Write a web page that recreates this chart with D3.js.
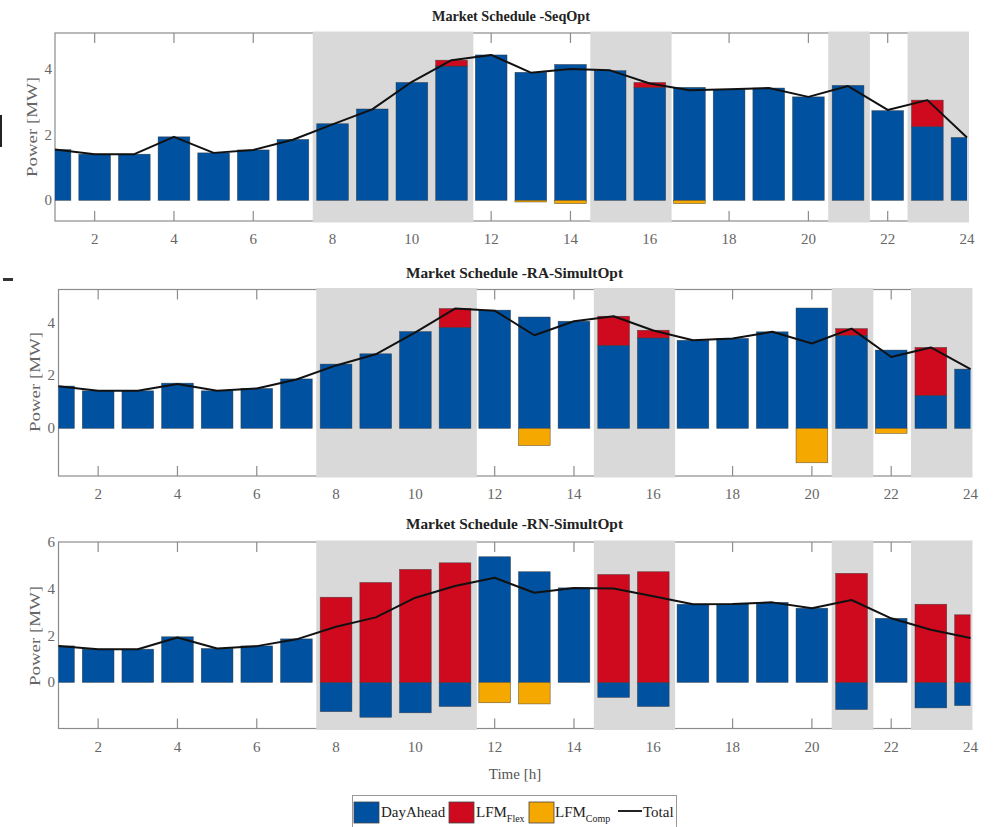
<!DOCTYPE html>
<html><head><meta charset="utf-8">
<script src="https://cdn.jsdelivr.net/npm/d3@7"></script>
<style>body{margin:0;background:#fff}</style>
</head><body>
<svg id="c" width="993" height="827" xmlns="http://www.w3.org/2000/svg"></svg>
<script>
// ---------------- DATA ----------------
const hours = [1,2,3,4,5,6,7,8,9,10,11,12,13,14,15,16,17,18,19,20,21,22,23,24];
const xTickValues = [2,4,6,8,10,12,14,16,18,20,22,24];
const shadedBands = [[7.5,11.5],[14.5,16.5],[20.5,21.5],[22.5,24]];
const seriesNames = ["DayAhead","LFM_Flex","LFM_Comp","Total"];

const seqDayAhead = [1.55,1.41,1.41,1.94,1.45,1.54,1.86,2.34,2.79,3.60,4.10,4.44,3.91,4.15,3.96,3.45,3.45,3.39,3.43,3.16,3.51,2.74,2.25,1.92];
const seqFlex     = [0,0,0,0,0,0,0,0,0,0,0.18,0,0,0,0,0.15,0,0,0,0,0,0,0.81,0];
const seqComp     = [0,0,0,0,0,0,0,0,0,0,0,0,-0.05,-0.10,0,0,-0.10,0,0,0,0,0,0,0];
const seqTotal    = [1.55,1.41,1.41,1.94,1.45,1.54,1.85,2.32,2.78,3.62,4.28,4.44,3.90,4.01,3.97,3.57,3.36,3.39,3.43,3.16,3.49,2.76,3.06,1.92];
const seqYTicks   = [0,2,4];

const raDayAhead = [1.60,1.42,1.42,1.71,1.42,1.51,1.87,2.43,2.82,3.66,3.82,4.47,4.21,4.05,3.14,3.42,3.33,3.40,3.65,4.55,3.52,2.96,1.25,2.24];
const raFlex     = [0,0,0,0,0,0,0,0,0,0,0.71,0,0,0,1.10,0.29,0,0,0,0,0.25,0,1.81,0];
const raComp     = [0,0,0,0,0,0,0,0,0,0,0,0,-0.65,0,0,0,0,0,0,-1.30,0,-0.19,0,0];
const raTotal    = [1.59,1.42,1.42,1.68,1.42,1.51,1.85,2.38,2.80,3.63,4.53,4.45,3.52,4.05,4.24,3.70,3.33,3.40,3.65,3.21,3.77,2.70,3.06,2.24];
const raYTicks   = [0,2,4];

const rnDayAhead = [1.56,1.42,1.42,1.95,1.45,1.56,1.86,-1.25,-1.49,-1.30,-1.03,5.37,4.73,4.04,-0.64,-1.03,3.34,3.35,3.42,3.17,-1.16,2.74,-1.09,-0.99];
const rnFlex     = [0,0,0,0,0,0,0,3.64,4.27,4.83,5.11,0,0,0,4.61,4.73,0,0,0,0,4.66,0,3.34,2.89];
const rnComp     = [0,0,0,0,0,0,0,0,0,0,0,-0.87,-0.92,0,0,0,0,0,0,0,0,0,0,0];
const rnTotal    = [1.56,1.42,1.42,1.92,1.45,1.55,1.84,2.38,2.78,3.62,4.12,4.47,3.83,4.03,4.01,3.68,3.34,3.35,3.42,3.17,3.52,2.74,2.25,1.90];
const rnYTicks   = [0,2,4,6];

// ---------------- LAYOUT / STYLE ----------------
const colors = {DayAhead:"#0052a0", LFM_Flex:"#cf0a1e", LFM_Comp:"#f5a800"};
const serif = "'Liberation Serif','DejaVu Serif',serif";
const panels = [
  {title:"Market Schedule -SeqOpt", da:seqDayAhead, flex:seqFlex, comp:seqComp, total:seqTotal, yTicks:seqYTicks,
   yDomain:[-0.63,5.11], x0:55, x1:967, top:33, bottom:221, titleY:20.5, titleW:158, tickY:244, yLabRight:52, ylabX:37, ylabY:127},
  {title:"Market Schedule -RA-SimultOpt", da:raDayAhead, flex:raFlex, comp:raComp, total:raTotal, yTicks:raYTicks,
   yDomain:[-1.8,5.25], x0:58.5, x1:970.5, top:289.5, bottom:476, titleY:278, titleW:217, tickY:499, yLabRight:55, ylabX:40, ylabY:382},
  {title:"Market Schedule -RN-SimultOpt", da:rnDayAhead, flex:rnFlex, comp:rnComp, total:rnTotal, yTicks:rnYTicks,
   yDomain:[-1.97,6], x0:58.5, x1:970.5, top:542, bottom:728.5, titleY:529, titleW:217, tickY:752, yLabRight:55, ylabX:40, ylabY:636}
];

const svg = d3.select("#c");
svg.append("rect").attr("width",993).attr("height",827).attr("fill","#fff");

panels.forEach((p, pi) => {
  const x = d3.scaleLinear().domain([1,24]).range([p.x0, p.x1]);
  const y = d3.scaleLinear().domain(p.yDomain).range([p.bottom, p.top]);
  const step = x(2) - x(1);
  const g = svg.append("g");
  const clipId = "clip"+pi;
  svg.append("defs").append("clipPath").attr("id",clipId)
     .append("rect").attr("x",p.x0).attr("y",p.top-2).attr("width",p.x1-p.x0).attr("height",p.bottom-p.top+4);

  // frame
  g.append("rect").attr("x",p.x0).attr("y",p.top).attr("width",p.x1-p.x0).attr("height",p.bottom-p.top)
    .attr("fill","none").attr("stroke","#8c8c8c").attr("stroke-width",1.2);
  // ticks inside (top & bottom)
  const tg = g.append("g").attr("stroke","#8c8c8c").attr("stroke-width",1.2);
  xTickValues.forEach(t => {
    tg.append("line").attr("x1",x(t)).attr("x2",x(t)).attr("y1",p.bottom).attr("y2",p.bottom-10);
    tg.append("line").attr("x1",x(t)).attr("x2",x(t)).attr("y1",p.top).attr("y2",p.top+10);
  });
  // shaded bands
  g.append("g").selectAll("rect").data(shadedBands).join("rect")
    .attr("x",d=>x(d[0])).attr("width",d=>x(d[1])-x(d[0])+2)
    .attr("y",p.top-1.5).attr("height",p.bottom-p.top+3)
    .attr("fill","#d9d9d9");

  // stacked bars
  const segs = [];
  hours.forEach((h,i) => {
    let pos = 0, neg = 0;
    [["DayAhead",p.da[i]],["LFM_Flex",p.flex[i]],["LFM_Comp",p.comp[i]]].forEach(([k,v]) => {
      if (!v) return;
      if (v > 0) { segs.push({h,k,y0:pos,y1:pos+v}); pos += v; }
      else { segs.push({h,k,y0:neg,y1:neg+v}); neg += v; }
    });
  });
  g.append("g").attr("clip-path",`url(#${clipId})`).selectAll("rect").data(segs).join("rect")
    .attr("x",d=>x(d.h-0.4)).attr("width",d=>x(d.h+0.4)-x(d.h-0.4))
    .attr("y",d=>y(Math.max(d.y0,d.y1))).attr("height",d=>Math.abs(y(d.y0)-y(d.y1)))
    .attr("fill",d=>colors[d.k]).attr("stroke","#333").attr("stroke-width",0.6).attr("stroke-opacity",0.7);

  // total line
  const line = d3.line().x((d,i)=>x(hours[i])).y(d=>y(d));
  g.append("path").datum(p.total).attr("d",line).attr("fill","none")
    .attr("stroke","#111").attr("stroke-width",2).attr("stroke-linejoin","round");

  // x tick labels
  g.append("g").selectAll("text").data(xTickValues).join("text")
    .attr("x",d=>x(d)).attr("y",p.tickY).attr("text-anchor","middle")
    .attr("font-family",serif).attr("font-size",15).attr("fill","#666").text(d=>d);
  // y tick labels
  g.append("g").selectAll("text").data(p.yTicks).join("text")
    .attr("x",p.yLabRight).attr("y",d=>y(d)+5).attr("text-anchor","end")
    .attr("font-family",serif).attr("font-size",15).attr("fill","#666").text(d=>d);
  // y label
  g.append("text").attr("transform",`translate(${p.ylabX},${p.ylabY}) rotate(-90)`)
    .attr("text-anchor","middle").attr("font-family",serif).attr("font-size",15).attr("fill","#666")
    .attr("textLength",100).attr("lengthAdjust","spacingAndGlyphs").text("Power [MW]");
  // title
  g.append("text").attr("x",(p.x0+p.x1)/2 + (pi===0?0:0)).attr("y",p.titleY).attr("text-anchor","middle")
    .attr("font-family",serif).attr("font-weight","bold").attr("font-size",14.5).attr("fill","#222")
    .attr("textLength",p.titleW).attr("lengthAdjust","spacingAndGlyphs").text(p.title);
});

// x axis label
svg.append("text").attr("x",515).attr("y",779).attr("text-anchor","middle")
  .attr("font-family",serif).attr("font-size",15).attr("fill","#555").text("Time [h]");

// stray crop artefacts at the left edge
svg.append("line").attr("x1",1).attr("x2",1).attr("y1",115).attr("y2",147).attr("stroke","#222").attr("stroke-width",2);
svg.append("rect").attr("x",3).attr("y",278).attr("width",10).attr("height",3).attr("fill","#333");

// legend
const lg = svg.append("g");
lg.append("rect").attr("x",352.5).attr("y",795.5).attr("width",324).attr("height",40)
  .attr("fill","#fff").attr("stroke","#999").attr("stroke-width",1);
const legendItems = [
  {k:"DayAhead", sx:354, tx:381, main:"DayAhead", sub:""},
  {k:"LFM_Flex", sx:449, tx:476, main:"LFM", sub:"Flex"},
  {k:"LFM_Comp", sx:529, tx:555, main:"LFM", sub:"Comp"}
];
legendItems.forEach(it => {
  lg.append("rect").attr("x",it.sx).attr("y",802).attr("width",25).attr("height",21)
    .attr("fill",colors[it.k]).attr("stroke","#444").attr("stroke-width",0.8);
  const t = lg.append("text").attr("x",it.tx).attr("y",817).attr("font-family",serif).attr("font-size",15).attr("fill","#222");
  t.append("tspan").text(it.main);
  if (it.sub) t.append("tspan").attr("dy",5).attr("font-size",10).text(it.sub);
});
lg.append("line").attr("x1",618).attr("x2",642).attr("y1",811).attr("y2",811).attr("stroke","#222").attr("stroke-width",2);
lg.append("text").attr("x",643).attr("y",817).attr("font-family",serif).attr("font-size",15).attr("fill","#222").text("Total");
</script>
</body></html>
